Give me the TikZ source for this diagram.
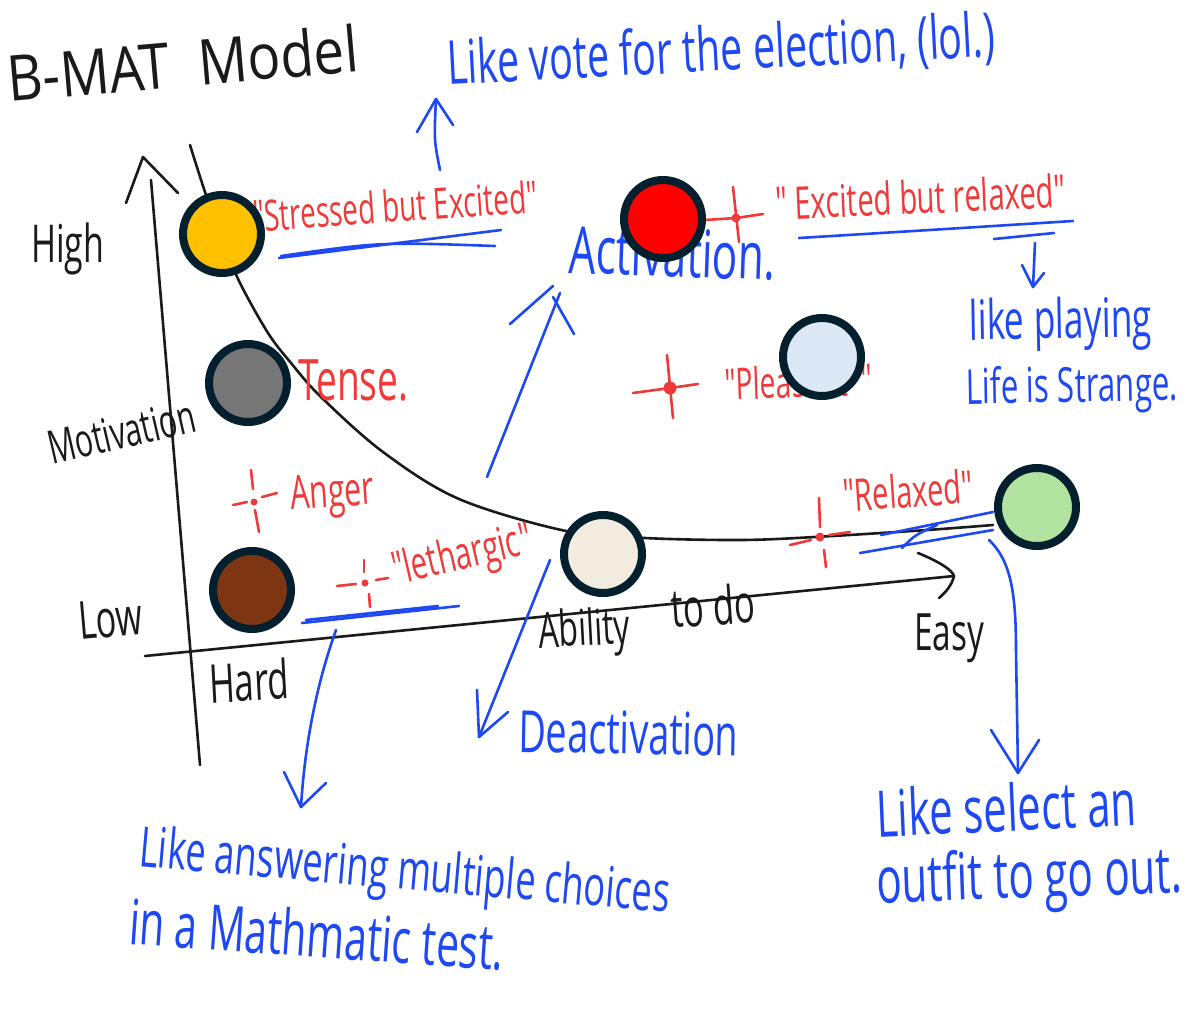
\documentclass[tikz,border=0pt]{standalone}
\usepackage{fontspec}
\usepackage{graphicx}
\newfontfamily\hand[FakeStretch=0.65]{Open Sans}
\definecolor{pblue}{HTML}{1E48F2}
\definecolor{pred}{HTML}{F03A3A}
\definecolor{ink}{HTML}{1A1A1A}
\definecolor{rim}{HTML}{04202F}
\definecolor{cgold}{HTML}{FFC000}
\definecolor{cred}{HTML}{FF0000}
\definecolor{cice}{HTML}{DCE8F6}
\definecolor{cgrey}{HTML}{767676}
\definecolor{cbrown}{HTML}{7E3512}
\definecolor{ccream}{HTML}{F1ECDF}
\definecolor{cgreen}{HTML}{B2E2A0}
\newcommand\hw[2]{\resizebox{#1pt}{!}{\hand #2}}
\newcommand\hwh[3]{\resizebox{#1pt}{#2pt}{\hand #3}}
\begin{document}
\begin{tikzpicture}[x=1pt,y=-1pt,
  stroke/.style={line width=2.6pt,line cap=round,line join=round},
  bk/.style={stroke,draw=ink},
  bl/.style={stroke,draw=pblue},
  rd/.style={stroke,draw=pred},
  lbl/.style={inner sep=0pt,anchor=base west},
  blk/.style={lbl,text=ink},
  blu/.style={lbl,text=pblue},
  red/.style={lbl,text=pred},
  dot/.style={circle,draw=rim,line width=8pt,minimum size=78pt,inner sep=0pt},
  mark/.style={circle,fill=pred,inner sep=0pt,minimum size=#1}]
\fill[white] (0,0) rectangle (1188,1031);
\useasboundingbox (0,0) rectangle (1188,1031);

% ---------- axes and curve ----------
\coordinate (ytop) at (151,180);
\coordinate (ybot) at (200,765);
\coordinate (xleft) at (145,656);
\coordinate (xright) at (954,576);
\draw[bk] (ybot) -- (ytop);
\draw[bk] (126,203) -- (143,157) -- (178,193);
\draw[bk] (xleft) -- (xright);
\draw[bk] (918,553) .. controls (940,562) and (952,570) .. (xright) .. controls (952,585) and (946,592) .. (939,598);
\draw[bk] plot[smooth,tension=0.55] coordinates {(190,145) (205,192) (222,240) (240,283) (268,333) (291,363) (321,397) (383,452) (459,499) (566,531) (645,538) (740,540) (815,537) (927,530) (993,525)};

% ---------- black labels ----------
\node[blk,rotate=5] (title) at (9,102) {\hwh{352}{48}{B-MAT\ \ Model}};
\node[blk] (high) at (31,262) {\hw{73}{High}};
\node[blk,rotate=13] (motiv) at (52,465) {\hw{150}{Motivation}};
\node[blk,rotate=5] (low) at (80,640) {\hw{64}{Low}};
\node[blk,rotate=3] (hard) at (210,703) {\hw{80}{Hard}};
\node[blk,rotate=3] (abil) at (539,648) {\hw{92}{Ability}};
\node[blk,rotate=4] (todo) at (672,628) {\hw{84}{to do}};
\node[blk] (easy) at (914,650) {\hw{70}{Easy}};

% ---------- red markers ----------
\coordinate (pexc) at (736,218);
\draw[rd] (705,220) -- (pexc) -- (763,214);
\draw[rd] (733,187) -- (739,242);
\node[mark=9pt] (mexc) at (pexc) {};

\coordinate (ppleas) at (670,388);
\draw[rd] (633,393) -- (ppleas) -- (698,384);
\draw[rd] (667,355) -- (673,418);
\node[mark=13pt] (mpleas) at (ppleas) {};

\coordinate (panger) at (254,502);
\draw[rd] (233,505) -- (247,502);
\draw[rd] (262,497) -- (277,493);
\draw[rd] (251,470) -- (253,489);
\draw[rd] (255,510) -- (259,532);
\node[mark=7pt] (manger) at (panger) {};

\coordinate (pleth) at (365,583);
\draw[rd] (337,586) -- (356,584);
\draw[rd] (376,580) -- (388,578);
\draw[rd] (364,560) -- (364,572);
\draw[rd] (369,594) -- (370,607);
\node[mark=7pt] (mleth) at (pleth) {};

\coordinate (prelax) at (820,537);
\draw[rd] (790,545) -- (811,540);
\draw[rd] (829,535) -- (850,532);
\draw[rd] (819,498) -- (820,527);
\draw[rd] (824,550) -- (826,567);
\node[mark=9pt] (mrelax) at (prelax) {};

% ---------- red labels ----------
\node[red,rotate=4] (stress) at (254,232) {\hw{285}{"Stressed but Excited"}};
\node[red,rotate=2.5] (excrel) at (776,220) {\hw{290}{" Excited but relaxed"}};
\node[red] (tense) at (298,400) {\hw{110}{Tense.}};
\node[red,rotate=4] (anger) at (291,510) {\hw{84}{Anger}};
\node[red,rotate=13] (leth) at (396,585) {\hw{142}{"lethargic"}};
\node[red,rotate=2] (pleas) at (725,400) {\hw{148}{"Pleasant\hspace{0.3em}"}};
\node[red,rotate=4] (relax) at (844,512) {\hw{130}{"Relaxed"}};

% ---------- blue labels ----------
\node[blu,rotate=3] (vote) at (448,85) {\hw{548}{Like vote for the election, (lol.)}};
\node[blu,rotate=-2] (act) at (568,273) {\hw{207}{Activation.}};
\node[blu,rotate=1] (play) at (969,340) {\hw{183}{like playing}};
\node[blu,rotate=1] (life) at (966,404) {\hw{212}{Life is Strange.}};
\node[blu,rotate=-1] (deact) at (518,752) {\hw{220}{Deactivation}};
\node[blu,rotate=-5] (ans1) at (138,866) {\hw{532}{Like answering multiple choices}};
\node[blu,rotate=-4] (ans2) at (128,944) {\hw{375}{in a Mathmatic test.}};
\node[blu,rotate=2.5] (sel1) at (877,837) {\hw{260}{Like select an}};
\node[blu,rotate=2] (sel2) at (877,903) {\hw{306}{outfit to go out.}};

% ---------- blue strokes ----------
\coordinate (vtail) at (440,170);
\coordinate (vtip) at (436,99);
\draw[bl] (vtail) .. controls (434,140) .. (vtip);
\draw[bl] (417,132) -- (vtip) -- (453,125);
\draw[bl] (279,258) -- (501,230);
\draw[bl] (281,256) .. controls (380,242) .. (495,246);
\coordinate (atail) at (487,477);
\coordinate (atip) at (560,293);
\draw[bl] (atail) -- (atip);
\draw[bl] (510,324) -- (553,286);
\draw[bl] (553,297) -- (574,334);
\draw[bl] (799,238) .. controls (930,230) .. (1073,221);
\draw[bl] (994,239) -- (1054,233);
\coordinate (etail) at (1035,243);
\coordinate (etip) at (1033,287);
\draw[bl] (etail) -- (etip);
\draw[bl] (1022,265) -- (etip) -- (1044,273);
\draw[bl] (302,623) -- (459,606);
\draw[bl] (306,620) -- (438,606);
\coordinate (ltail) at (336,630);
\coordinate (ltip) at (301,807);
\draw[bl] (ltail) .. controls (318,680) and (305,740) .. (ltip);
\draw[bl] (284,772) -- (ltip) -- (326,783);
\coordinate (dtail) at (550,560);
\coordinate (dtip) at (479,737);
\draw[bl] (dtail) -- (dtip);
\draw[bl] (477,690) -- (dtip) -- (508,712);
\draw[bl] (881,535) -- (993,512);
\draw[bl] (860,553) -- (993,530);
\draw[bl] (902,548) .. controls (915,535) .. (937,525);
\coordinate (rtail) at (989,540);
\coordinate (rtip) at (1018,773);
\draw[bl] (rtail) .. controls (1010,560) and (1016,590) .. (1016,650) -- (rtip);
\draw[bl] (991,730) -- (rtip) -- (1039,740);

% ---------- coloured circles ----------
\node[dot,fill=cgold]  (cgoldn)  at (222,234) {};
\node[dot,fill=cred]   (credn)   at (663,219) {};
\node[dot,fill=cice]   (cicen)   at (822,357) {};
\node[dot,fill=cgrey]  (cgreyn)  at (248,383) {};
\node[dot,fill=cbrown] (cbrownn) at (252,590) {};
\node[dot,fill=ccream] (ccreamn) at (603,554) {};
\node[dot,fill=cgreen] (cgreenn) at (1037,507) {};
\end{tikzpicture}
\end{document}
